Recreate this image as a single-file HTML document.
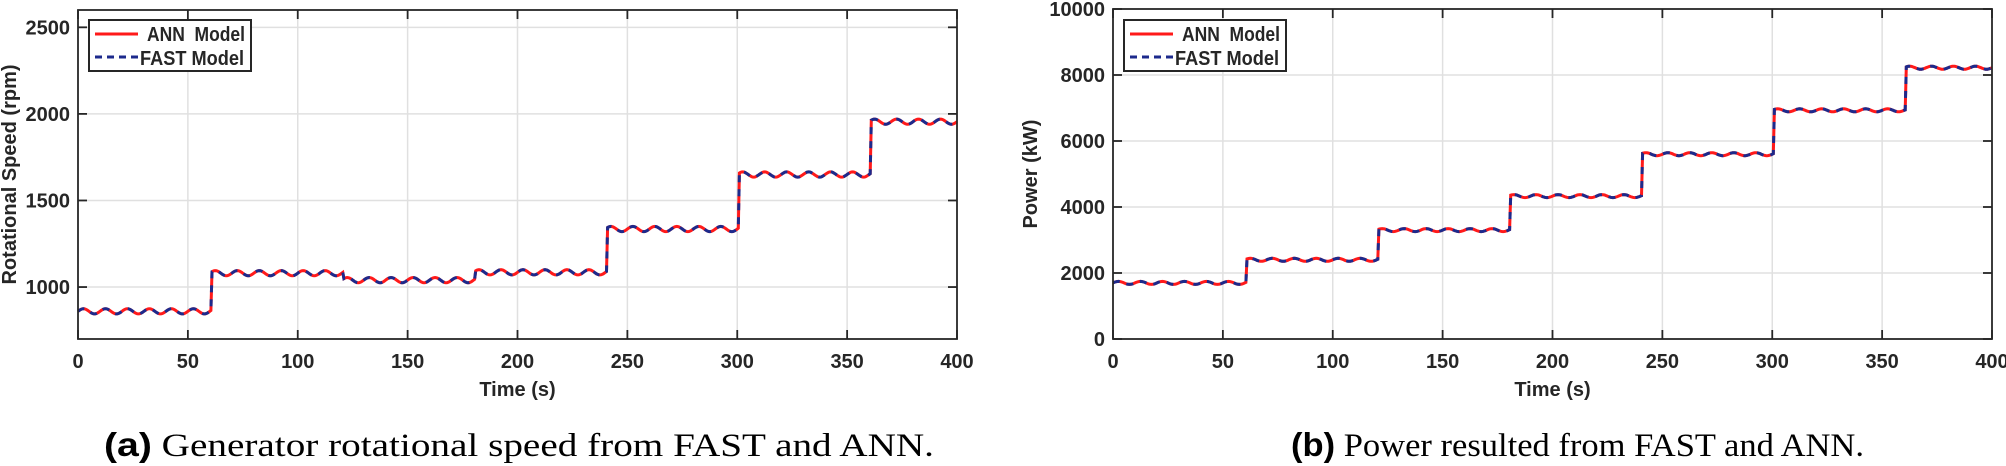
<!DOCTYPE html>
<html><head><meta charset="utf-8"><style>
html,body{margin:0;padding:0;background:#fff}
svg{display:block}
.t{font-family:"Liberation Sans",sans-serif;font-weight:bold;font-size:20px;fill:#262626}
.c{font-family:"Liberation Serif",serif;font-size:33px;fill:#000}
</style></head><body>
<svg id="s" width="2006" height="466" xmlns="http://www.w3.org/2000/svg">
<g id="g"></g>
<text class="c" x="104" y="456" textLength="830" lengthAdjust="spacingAndGlyphs"><tspan style="font-family:'Liberation Sans',sans-serif;font-weight:bold">(a)</tspan> Generator rotational speed from FAST and ANN.</text>
<text class="c" x="1291" y="456" textLength="573" lengthAdjust="spacingAndGlyphs"><tspan style="font-family:'Liberation Sans',sans-serif;font-weight:bold">(b)</tspan> Power resulted from FAST and ANN.</text>
</svg>
<script>
var NS="http://www.w3.org/2000/svg",G=document.getElementById("g");
function el(n,a,t){var e=document.createElementNS(NS,n);for(var k in a)e.setAttribute(k,a[k]);if(t!=null)e.textContent=t;G.appendChild(e);return e;}
function plot(o){
 var X=function(t){return o.x0+(t/400)*(o.x1-o.x0)},Y=function(v){return o.y1-(v-o.ymin)/(o.ymax-o.ymin)*(o.y1-o.y0)};
 for(var t=50;t<400;t+=50)el("line",{x1:X(t),x2:X(t),y1:o.y0,y2:o.y1,stroke:"#e0e0e0","stroke-width":1.5});
 o.yt.forEach(function(v){if(Y(v)>o.y0+1&&Y(v)<o.y1-1)el("line",{x1:o.x0,x2:o.x1,y1:Y(v),y2:Y(v),stroke:"#e0e0e0","stroke-width":1.5});});
 var pts=[];
 for(var t=0;t<=400;t+=0.5){var seg=Math.min(6,Math.max(0,Math.floor((t-1)/60)));var lv=o.lv[seg];
  var v=lv+o.a*Math.sin(2*Math.PI*t/10);
  pts.push([X(t),Y(v)]);}
 var d="M"+pts.map(function(p){return p[0].toFixed(1)+","+p[1].toFixed(1)}).join("L");
 el("path",{d:d,fill:"none",stroke:"#ff1a1a","stroke-width":3});
 el("path",{d:d,fill:"none",stroke:"#1c2a8c","stroke-width":3,"stroke-dasharray":"7 7"});
 el("rect",{x:o.x0,y:o.y0,width:o.x1-o.x0,height:o.y1-o.y0,fill:"none",stroke:"#262626","stroke-width":1.8});
 for(var t=0;t<=400;t+=50){el("line",{x1:X(t),x2:X(t),y1:o.y1,y2:o.y1-9,stroke:"#262626","stroke-width":1.8});el("line",{x1:X(t),x2:X(t),y1:o.y0,y2:o.y0+9,stroke:"#262626","stroke-width":1.8});
  el("text",{class:"t",x:X(t),y:o.y1+29,"text-anchor":"middle"},t);}
 o.yt.forEach(function(v){el("line",{x1:o.x0,x2:o.x0+9,y1:Y(v),y2:Y(v),stroke:"#262626","stroke-width":1.8});el("line",{x1:o.x1,x2:o.x1-9,y1:Y(v),y2:Y(v),stroke:"#262626","stroke-width":1.8});
  el("text",{class:"t",x:o.x0-8,y:Y(v)+7,"text-anchor":"end"},v);});
 el("text",{class:"t",x:(o.x0+o.x1)/2,y:o.y1+57,"text-anchor":"middle","font-size":"19"},"Time (s)");
 el("text",{class:"t",transform:"translate("+o.lx+","+((o.y0+o.y1)/2)+") rotate(-90)","text-anchor":"middle","font-size":"19"},o.yl);
 var lx=o.x0+11,ly=20;
 el("rect",{x:lx,y:ly,width:162,height:51,fill:"#fff",stroke:"#262626","stroke-width":2});
 el("line",{x1:lx+6,x2:lx+49,y1:ly+14,y2:ly+14,stroke:"#ff1a1a","stroke-width":3});
 el("line",{x1:lx+6,x2:lx+49,y1:ly+37,y2:ly+37,stroke:"#1c2a8c","stroke-width":3,"stroke-dasharray":"7 5"});
 el("text",{class:"t",x:lx+58,y:ly+21,"font-size":"17",fill:"#000",textLength:98,lengthAdjust:"spacingAndGlyphs"},"ANN\u00a0\u00a0Model");
 el("text",{class:"t",x:lx+51,y:ly+45,"font-size":"17",fill:"#000",textLength:104,lengthAdjust:"spacingAndGlyphs"},"FAST Model");
}
plot({x0:78,x1:957,y0:10,y1:339,ymin:700,ymax:2600,yt:[1000,1500,2000,2500],lv:[860,1080,1040,1085,1335,1650,1955],a:15,lx:16,yl:"Rotational Speed (rpm)"});
plot({x0:1113,x1:1992,y0:9,y1:339,ymin:0,ymax:10000,yt:[0,2000,4000,6000,8000,10000],lv:[1700,2400,3300,4330,5600,6930,8220],a:45,lx:1037,yl:"Power (kW)"});
</script>
</body></html>
